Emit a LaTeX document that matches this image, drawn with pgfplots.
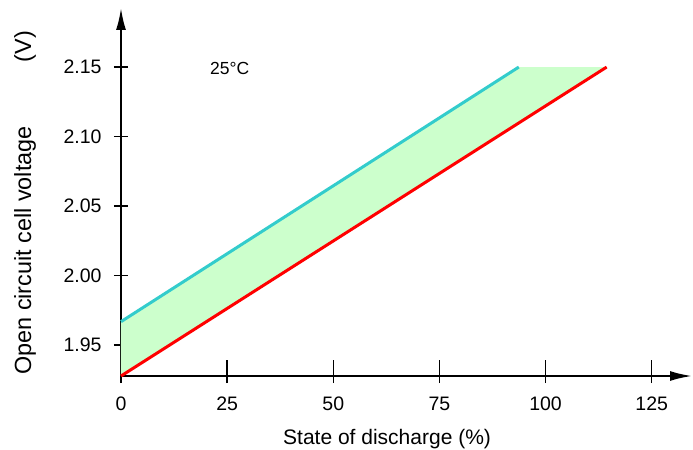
\documentclass[border=0pt]{standalone}
\usepackage{pgfplots}
\pgfplotsset{compat=1.18}
\usepackage{fontspec}
\setmainfont{Liberation Sans}
\usetikzlibrary{arrows.meta}
\definecolor{cyanline}{RGB}{51,204,204}
\definecolor{redline}{RGB}{255,0,0}
\definecolor{band}{RGB}{204,255,204}
\begin{document}
\begin{tikzpicture}
\begin{axis}[
    at={(0,0)}, anchor=origin,
    scale only axis,
    width=571bp, height=368bp,
    xmin=0, xmax=134.5,
    ymin=1.9277, ymax=2.1925,
    axis lines=left,
    axis line style={line width=2bp, -{Latex[length=22bp,width=10bp]}},
    xtick=\empty,
    extra x ticks={0,25,50,75,100,125},
    extra x tick style={major tick length=23bp,
        tick style={line width=1.5bp, black, yshift=4.5bp},
        tick label style={yshift=-6bp}},
    ytick={1.95,2.00,2.05,2.10,2.15},
    yticklabel style={/pgf/number format/fixed, /pgf/number format/fixed zerofill,
        /pgf/number format/precision=2, xshift=-9bp},
    /pgf/number format/assume math mode=true,
    tick align=center,
    major tick length=14bp,
    ytick style={line width=1.5bp, black},
    tick label style={font=\fontsize{19.5bp}{22bp}\selectfont},
    xlabel={State of discharge (\%)},
    ylabel={Open circuit cell voltage\hspace{64bp}(V)},
    xlabel style={font=\fontsize{21bp}{24bp}\selectfont,
        at={(axis description cs:0.466,0)}, anchor=north, yshift=-50bp},
    ylabel style={font=\fontsize{23.4bp}{26bp}\selectfont,
        at={(axis description cs:-0.168,-0.006)}, anchor=west},
    clip=false,
]
\addplot[fill=band, draw=none] coordinates {(0,1.9277) (0,1.9668) (93.7,2.15) (114.4,2.15)} -- cycle;
\addplot[cyanline, line width=3bp] coordinates {(0,1.9668) (93.7,2.15)};
\addplot[redline, line width=3bp] coordinates {(0,1.9277) (114.4,2.15)};
\node[font=\fontsize{17.5bp}{20bp}\selectfont] at (axis cs:25.6,2.149) {25°C};
\end{axis}
\pgfresetboundingbox
\path (-121bp,-74bp) rectangle (572bp,376bp);
\end{tikzpicture}
\end{document}
